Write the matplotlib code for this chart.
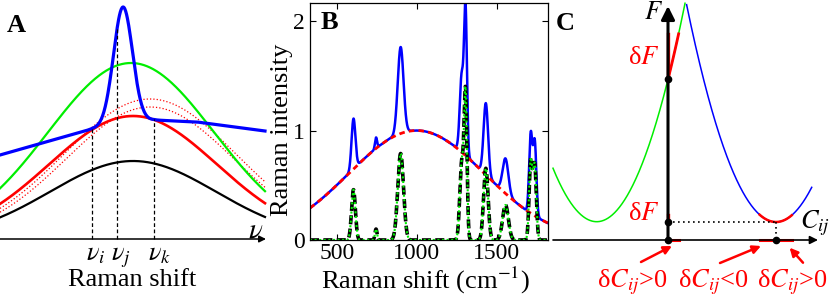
import numpy as np
import matplotlib
matplotlib.use('Agg')
import matplotlib.pyplot as plt

plt.rcParams['font.family'] = ['Liberation Serif', 'DejaVu Serif']
plt.rcParams['mathtext.fontset'] = 'stix'

# ---- panel A: schematic curves (center, height, width) in panel units ----
a_black = (133, 78, 83)
a_red = (133, 123, 84)
a_green = (131, 176, 83)
a_dotted = [(150, 140, 86), (150, 132, 84)]
a_blue_x = [0, 92, 154, 197, 265]
a_blue_y = [84, 110, 119, 117, 108]
a_blue_peak = (123, 117.5, 9.5)
nu_pos = [92, 117, 154]
nu_labels = [r'$\nu_i$', r'$\nu_j$', r'$\nu_k$']

# ---- panel B: Raman spectrum ----
b_peak_pos = [605, 746, 900, 1282, 1306, 1433, 1556, 1714, 1739]
b_peak_height = [0.46, 0.10, 0.79, 0.70, 1.30, 0.655, 0.32, 0.72, 0.67]
b_peak_width = [12, 6.5, 18, 12, 9, 14, 18, 10, 10]
b_background = (1000, 1.0, 425)
b_xticks = [500, 1000, 1500]
b_yticks = [0, 1, 2]

# ---- panel C: free energy parabolas (vertex x, vertex y, curvature) ----
c_green = (-71.3, 18.3, 0.028)
c_blue = (108, 18, 0.0272)
c_green_red = (0, 10.6)
c_blue_red = (91.6, 123.7)
c_dots_x = [0, 0, 0, 108]
c_dots_y = [161, 18, 0, 0]
c_labels = ['δ$C_{ij}$>0', 'δ$C_{ij}$<0', 'δ$C_{ij}$>0']
c_label_x = [-35.5, 45.7, 124.7]


def gauss(x, c, h, w):
    return h * np.exp(-(x - c) ** 2 / (2 * w ** 2))


fig = plt.figure(figsize=(8.3, 2.98), dpi=100)

# ================= A =================
axA = fig.add_axes([0, 0, 270 / 830, 1])
axA.set_xlim(0, 270)
axA.set_ylim(-59, 239)
axA.axis('off')

xa = np.linspace(0, 265, 600)
axA.plot(xa, gauss(xa, *a_black), color='black', lw=1.6)
for p in a_dotted:
    axA.plot(xa, gauss(xa, *p), color='red', lw=0.9, ls=':')
axA.plot(xa, gauss(xa, *a_green), color='#00ee00', lw=1.6)
axA.plot(xa, gauss(xa, *a_red), color='red', lw=1.9)
blue_a = np.interp(xa, a_blue_x, a_blue_y) + gauss(xa, *a_blue_peak)
axA.plot(xa, blue_a, color='blue', lw=2.3)

for x0, lab in zip(nu_pos, nu_labels):
    axA.plot([x0, x0], [0, np.interp(x0, xa, blue_a)], color='black', lw=0.9, ls=(0, (3, 2)))
    axA.text(x0 - 6, -21, lab, fontsize=19, ha='left', va='baseline')

axA.annotate('', xy=(266, 0), xytext=(0, 0),
             arrowprops=dict(arrowstyle='-|>', color='black', lw=1.1,
                             mutation_scale=10, shrinkA=0, shrinkB=0))
axA.text(255.5, 9, r'$\nu$', fontsize=21, ha='center', va='center')
axA.text(132.5, -47, 'Raman shift', fontsize=19, ha='center', va='baseline')
axA.text(16.5, 214, 'A', fontsize=19, fontweight='bold', ha='center', va='center')

# ================= B =================
axB = fig.add_axes([310 / 830, 58 / 298, 237.7 / 830, 237 / 298])
xb = np.linspace(330, 1825, 3000)
base = gauss(xb, *b_background)
peaks = np.zeros_like(xb)
for c, h, w in zip(b_peak_pos, b_peak_height, b_peak_width):
    peaks += gauss(xb, c, h, w)

axB.plot(xb, base + peaks, color='blue', lw=1.8)
axB.plot(xb, base, color='red', lw=2, ls=(0, (2, 1.5)))
axB.plot(xb, peaks, color='black', lw=2.6, ls=(0, (2.5, 1.2)))
axB.plot(xb, peaks, color='#00ee00', lw=1.5, ls=(0, (1, 1.2)))

axB.set_xlim(333, 1820)
axB.set_ylim(0, 2.165)
axB.set_xticks(b_xticks)
axB.set_yticks(b_yticks)
axB.tick_params(direction='in', top=True, right=True, length=4, labelsize=17)
axB.tick_params(axis='x', pad=2)
for s in axB.spines.values():
    s.set_linewidth(0.9)
axB.set_xlabel('Raman shift (cm$^{-1}$)', fontsize=19, va='baseline')
axB.xaxis.set_label_coords(0.487, -0.203)
axB.set_ylabel('Raman intensity', fontsize=19, va='baseline')
axB.yaxis.set_label_coords(-0.091, 0.464)
fig.text(329 / 830, 1 - 22.5 / 298, 'B', fontsize=19, fontweight='bold', ha='center', va='center')

# ================= C =================
axC = fig.add_axes([540 / 830, 0, 290 / 830, 1])
axC.set_xlim(-128, 162)
axC.set_ylim(-58, 240)
axC.axis('off')

xg = np.linspace(-115, 20, 500)
yg = c_green[1] + c_green[2] * (xg - c_green[0]) ** 2
mg = yg <= 237
axC.plot(xg[mg], yg[mg], color='#00ee00', lw=1.1)
xbl = np.linspace(15, 143.7, 500)
ybl = c_blue[1] + c_blue[2] * (xbl - c_blue[0]) ** 2
mb = ybl <= 236
axC.plot(xbl[mb], ybl[mb], color='blue', lw=1.1)

xr = np.linspace(*c_green_red, 50)
yr = c_green[1] + c_green[2] * (xr - c_green[0]) ** 2
axC.plot(xr, yr, color='red', lw=2)
xr2 = np.linspace(*c_blue_red, 80)
yr2 = c_blue[1] + c_blue[2] * (xr2 - c_blue[0]) ** 2
axC.plot(xr2, yr2, color='red', lw=1.8)

# axes
axC.annotate('', xy=(150, 0), xytext=(-115, 0),
             arrowprops=dict(arrowstyle='-|>', color='black', lw=1.2,
                             mutation_scale=12, shrinkA=0, shrinkB=0))
axC.annotate('', xy=(0, 234), xytext=(0, 0),
             arrowprops=dict(arrowstyle='-|>', color='black', lw=2.2,
                             mutation_scale=20, shrinkA=0, shrinkB=0))

# dotted guides
axC.plot([0, c_blue[0]], [c_blue[1], c_blue[1]], color='black', lw=1.2, ls=(0, (1, 2)))
axC.plot([c_blue[0], c_blue[0]], [c_blue[1], 0], color='black', lw=1.2, ls=(0, (1, 2)))

# red increments on the axes
f0 = c_green[1] + c_green[2] * (0 - c_green[0]) ** 2
f1 = c_green[1] + c_green[2] * (c_green_red[1] - c_green[0]) ** 2
axC.plot([0, 0], [f0, f1], color='red', lw=2.4)
f2 = c_blue[1] + c_blue[2] * (c_blue_red[0] - c_blue[0]) ** 2
axC.plot([0, 0], [c_blue[1], f2], color='red', lw=2.4)
axC.plot(list(c_green_red), [0, 0], color='red', lw=2.2)
axC.plot(list(c_blue_red), [0, 0], color='red', lw=2.2)

axC.plot(c_dots_x, c_dots_y, 'o', color='black', ms=4.5, zorder=5)

# text
axC.text(-14, 227, '$F$', fontsize=19, ha='center', va='center')
axC.text(-24.7, 182.5, 'δ$F$', fontsize=19, color='red', ha='center', va='center')
axC.text(-24.7, 25.5, 'δ$F$', fontsize=19, color='red', ha='center', va='center')
axC.text(147, 17, '$C_{ij}$', fontsize=19, ha='center', va='center')
for x0, lab in zip(c_label_x, c_labels):
    axC.text(x0, -47, lab, fontsize=19, color='red', ha='center', va='baseline')

arrows = [((-27, -22), (4, -6)), ((52, -23), (93, -6)), ((135, -22.7), (121.6, -7.7))]
for start, end in arrows:
    axC.annotate('', xy=end, xytext=start,
                 arrowprops=dict(arrowstyle='-|>', color='red', lw=1.8,
                                 mutation_scale=12, shrinkA=0, shrinkB=0))
axC.text(-103, 217, 'C', fontsize=19, fontweight='bold', ha='center', va='center')

fig.savefig('out.png', dpi=100)
